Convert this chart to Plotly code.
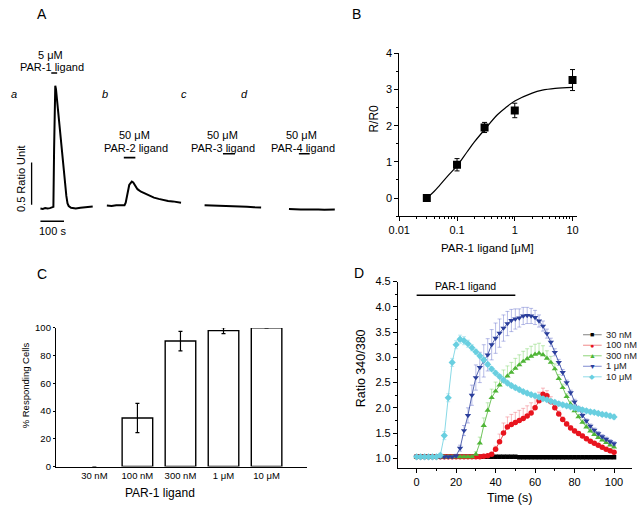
import plotly.graph_objects as go

W, H = 638, 510
FONT = "Arial, Liberation Sans, sans-serif"

def fx(px):
    return px / W

def fy(py):
    return 1 - py / H

# ---------------- Panel A data (time in s relative to trace start, ratio units) ----------------
a_t = [0, 10, 20, 30, 40, 50, 55, 58, 61, 63, 66, 75, 85, 95, 105, 110, 115, 120, 130, 150, 170, 190, 210, 222]
a_v = [0, -0.005, 0.005, 0, 0.005, 0.01, 0.02, 0.7, 1.3, 1.46, 1.42, 1.15, 0.86, 0.58, 0.3, 0.15, 0.06, 0.03, 0.01, 0.0, 0.01, 0.015, 0.02, 0.025]
b_t = [0, 20, 40, 60, 75, 80, 85, 90, 95, 100, 106, 112, 120, 130, 145, 160, 180, 200, 220, 240, 260, 280, 300, 315]
b_v = [0.035, 0.03, 0.04, 0.035, 0.04, 0.07, 0.15, 0.23, 0.28, 0.3, 0.32, 0.31, 0.27, 0.23, 0.2, 0.18, 0.155, 0.13, 0.115, 0.1, 0.09, 0.085, 0.075, 0.07]
c_t = [0, 30, 60, 90, 120, 150, 180, 210, 240]
c_v = [0.04, 0.038, 0.035, 0.03, 0.028, 0.022, 0.02, 0.015, 0.012]
d_t = [0, 25, 50, 75, 100, 125, 150, 175, 196]
d_v = [-0.005, -0.01, -0.012, -0.01, -0.015, -0.012, -0.015, -0.01, -0.012]
trace_labels = ["a", "b", "c", "d"]
ligand_on = [46, 72, 78, 42]
ligand_off = [71, 121, 129, 88]
ligand_conc = ["5 μM", "50 μM", "50 μM", "50 μM"]
ligand_name = ["PAR-1 ligand", "PAR-2 ligand", "PAR-3 ligand", "PAR-4 ligand"]

# ---------------- Panel B data ----------------
b_conc = [0.03, 0.1, 0.3, 1, 10]
b_ratio = [0.0, 0.92, 1.95, 2.42, 3.26]
b_err = [0.03, 0.17, 0.14, 0.2, 0.29]
fit_x = [0.03, 0.04, 0.05, 0.07, 0.1, 0.15, 0.2, 0.3, 0.5, 0.7, 1, 2, 3, 5, 10]
fit_y = [0.0, 0.18, 0.35, 0.62, 0.89, 1.28, 1.55, 1.89, 2.3, 2.5, 2.68, 2.9, 2.98, 3.03, 3.06]

# ---------------- Panel C data ----------------
c_cats = ["30 nM", "100 nM", "300 nM", "1 μM", "10 μM"]
c_pct = [0, 35, 90.5, 98, 100]
c_err = [0, 10.5, 7, 2.2, 0]

# ---------------- Panel D data ----------------
d_time = list(range(0, 101, 2))
nm30 = [1.03] * 26 + [1.02] * 25
nm100 = [1.03] * 17 + [1.04, 1.05, 1.08, 1.18, 1.33, 1.5, 1.62, 1.67, 1.71, 1.75, 1.79, 1.84, 1.9, 2.0, 2.14,
         2.27, 2.24, 2.12, 2.0, 1.88, 1.77, 1.68, 1.6, 1.54, 1.49, 1.44, 1.39, 1.34, 1.3, 1.26, 1.22, 1.18, 1.15, 1.12]
nm300 = [1.03] * 15 + [1.08, 1.3, 1.65, 1.95, 2.2, 2.33, 2.45, 2.55, 2.63, 2.7, 2.78, 2.85, 2.92, 2.97, 3.02, 3.06,
                       3.08, 3.05, 2.98, 2.9, 2.77, 2.58, 2.4, 2.22, 2.07, 1.94, 1.82, 1.71, 1.62, 1.54, 1.47, 1.41,
                       1.36, 1.31, 1.26, 1.22]
um1 = [1.03] * 10 + [1.05, 1.2, 1.55, 1.85, 2.25, 2.6, 2.8, 2.93, 3.05, 3.25, 3.38, 3.48, 3.58, 3.67, 3.73, 3.76,
                     3.78, 3.82, 3.83, 3.82, 3.79, 3.72, 3.62, 3.47, 3.3, 3.1, 2.9, 2.7, 2.5, 2.3, 2.12, 1.98, 1.85,
                     1.74, 1.64, 1.56, 1.49, 1.43, 1.38, 1.33, 1.29]
um10 = [1.03] * 6 + [1.06, 1.45, 2.2, 2.9, 3.25, 3.36, 3.33, 3.27, 3.19, 3.11, 3.03, 2.95, 2.86, 2.77, 2.69, 2.62,
                     2.55, 2.49, 2.44, 2.4, 2.36, 2.32, 2.29, 2.26, 2.24, 2.21, 2.18, 2.16, 2.13, 2.11, 2.08, 2.06,
                     2.04, 2.02, 2.0, 1.98, 1.96, 1.94, 1.92, 1.91, 1.89, 1.87, 1.86, 1.84, 1.82]
e30 = [0.01] * 51
e100 = [0.02] * 20 + [0.06, 0.15, 0.2, 0.2, 0.2, 0.2, 0.2, 0.2, 0.2, 0.2, 0.2, 0.17, 0.12, 0.1, 0.1, 0.08,
                      0.06, 0.05, 0.05, 0.05, 0.05, 0.04, 0.04, 0.04, 0.03, 0.03, 0.03, 0.03, 0.03, 0.03, 0.03]
e300 = [0.02] * 15 + [0.05, 0.12, 0.15, 0.15, 0.17, 0.18, 0.2, 0.2, 0.2, 0.2, 0.2, 0.2, 0.2, 0.2, 0.2, 0.2, 0.2,
                      0.18, 0.15, 0.12, 0.1, 0.08, 0.07, 0.06, 0.06, 0.05, 0.05, 0.05, 0.05, 0.04, 0.04, 0.04,
                      0.04, 0.04, 0.04, 0.04]
e1 = [0.02] * 10 + [0.03, 0.06, 0.1, 0.15, 0.2, 0.25, 0.3, 0.32, 0.32, 0.3, 0.3, 0.28, 0.26, 0.24, 0.22, 0.2,
                    0.18, 0.17, 0.16, 0.15, 0.14, 0.12, 0.1, 0.09, 0.08, 0.07, 0.06, 0.06, 0.05, 0.05, 0.05, 0.05,
                    0.04, 0.04, 0.04, 0.04, 0.04, 0.04, 0.04, 0.04, 0.04]
e10 = [0.02] * 6 + [0.04, 0.08, 0.08, 0.08, 0.08, 0.08, 0.08, 0.07, 0.06, 0.05] + [0.04] * 35
d_names = ["30 nM", "100 nM", "300 nM", "1 μM", "10 μM"]
d_series = [nm30, nm100, nm300, um1, um10]
d_errs = [e30, e100, e300, e1, e10]
d_err_both = [True, False, False, True, True]   # red / green bars drawn upward only
d_colors = ["#000000", "#e8141e", "#4fb536", "#2b3f9c", "#69cfe0"]
d_errcol = ["rgba(90,90,90,0.5)", "rgba(240,110,120,0.6)", "rgba(120,210,100,0.6)", "rgba(90,100,200,0.55)",
            "rgba(130,215,230,0.65)"]
d_symbols = ["square", "circle", "triangle-up", "triangle-down", "diamond"]
d_glyphs = ["■", "●", "▲", "▼", "◆"]
stim_window = [0, 50]
stim_level = 4.23

fig = go.Figure()

# ---------------- Panel A ----------------
S_PER_PX = 1 / 0.24
U_PER_PX = 1 / 86.0
starts_px = [30, 97.7, 197.3, 283.3]
offsets = [p * S_PER_PX for p in starts_px]
for (tt, vv), off in zip([(a_t, a_v), (b_t, b_v), (c_t, c_v), (d_t, d_v)], offsets):
    fig.add_trace(go.Scatter(x=[t + off for t in tt], y=vv, mode="lines",
                             line=dict(color="black", width=2), xaxis="x", yaxis="y",
                             hoverinfo="skip"))

lig_y = [1.61, 0.605, 0.651, 0.651]
for i in range(4):
    fig.add_shape(type="line", xref="x", yref="y",
                  x0=offsets[i] + ligand_on[i], x1=offsets[i] + ligand_off[i],
                  y0=lig_y[i], y1=lig_y[i], line=dict(color="black", width=1.6))

# scale bars: 0.5 ratio unit and 100 s
fig.add_shape(type="line", xref="x", yref="y", x0=21 * S_PER_PX, x1=21 * S_PER_PX,
              y0=0.0465, y1=0.5465, line=dict(color="black", width=1.3))
fig.add_shape(type="line", xref="x", yref="y", x0=offsets[0], x1=offsets[0] + 100,
              y0=-0.151, y1=-0.151, line=dict(color="black", width=1.3))

ann = []

def text(x, y, s, size=11, ang=0, xanchor="center", italic=False, color="black"):
    ann.append(dict(x=fx(x), y=fy(y), xref="paper", yref="paper", text=s, showarrow=False,
                    textangle=ang, xanchor=xanchor, yanchor="middle",
                    font=dict(family=FONT, size=size, color=color,
                              style="italic" if italic else "normal")))

text(32, 8, "A", 14)
text(352, 8, "B", 14)
text(32, 274, "C", 14)
text(355, 273, "D", 14)

lab_x = [3, 96, 176, 238]
for lx, lb in zip(lab_x, trace_labels):
    text(lx, 90, lb, 11, italic=True)
conc_pos = [(40, 50, 41.7, 62), (126, 132, 127.7, 145), (216, 132, 216, 145), (296, 132, 298, 145)]
for (cx, cy, nx, ny), cc, nn in zip(conc_pos, ligand_conc, ligand_name):
    text(cx, cy, cc, 11)
    text(nx, ny, nn, 11)
text(10, 176, "0.5 Ratio Unit", 11, ang=-90)
text(42, 230, "100 s", 11)

# ---------------- Panel B ----------------
fig.add_trace(go.Scatter(x=fit_x, y=fit_y, mode="lines", line=dict(color="black", width=1.2, shape="spline"),
                         xaxis="x2", yaxis="y2", hoverinfo="skip"))
fig.add_trace(go.Scatter(x=b_conc, y=b_ratio, mode="markers",
                         marker=dict(symbol="square", size=8, color="black"),
                         error_y=dict(type="data", array=b_err, color="black", thickness=1, width=2.5),
                         xaxis="x2", yaxis="y2", hoverinfo="skip"))
text(369, 115, "R/R0", 12, ang=-90)
text(486, 247, "PAR-1 ligand [μM]", 11.5)

# ---------------- Panel C ----------------
fig.add_trace(go.Bar(x=list(range(len(c_cats))), y=c_pct, width=0.71,
                     marker=dict(color="white",
                                 line=dict(color="black", width=[0 if v == 0 else 1.4 for v in c_pct])),
                     error_y=dict(type="data", array=c_err, color="black", thickness=1.2, width=2),
                     xaxis="x3", yaxis="y3", hoverinfo="skip"))
text(15, 388, "% Responding Cells", 9.5, ang=-90)
text(152, 498, "PAR-1 ligand", 12)

# ---------------- Panel D ----------------
for name, ys, es, both, col, ecol, sym in zip(d_names, d_series, d_errs, d_err_both, d_colors, d_errcol,
                                              d_symbols):
    err = dict(type="data", array=es, color=ecol, thickness=0.8, width=2)
    if not both:
        err.update(symmetric=False, arrayminus=[0] * len(es))
    fig.add_trace(go.Scatter(x=d_time, y=ys, mode="lines+markers", name=name,
                             line=dict(color=col, width=0.8),
                             marker=dict(symbol=sym, size=5.5 if sym != "square" else 4.5, color=col),
                             error_y=err, xaxis="x4", yaxis="y4", hoverinfo="skip"))
fig.add_shape(type="line", xref="x4", yref="y4", x0=stim_window[0], x1=stim_window[1],
              y0=stim_level, y1=stim_level, line=dict(color="black", width=1.3))
ann.append(dict(x=sum(stim_window) / 2, y=4.41, xref="x4", yref="y4", text="PAR-1 ligand", showarrow=False,
                font=dict(family=FONT, size=10.5, color="black")))
text(357, 370, "Ratio 340/380", 12.5, ang=-90)
text(508, 503, "Time (s)", 12.5)

# manual compact legend
rows = [336, 346.7, 357.5, 368.2, 379]
leg_line = ["#808080", "#f08a8a", "#8fd47a", "#7f8ad0", "#8fdbe8"]
for ry, nm, col, lc, g in zip(rows, d_names, d_colors, leg_line, d_glyphs):
    fig.add_shape(type="line", xref="paper", yref="paper", x0=fx(583), x1=fx(602), y0=fy(ry), y1=fy(ry),
                  line=dict(color=lc, width=1))
    text(592.5, ry, g, 7, color=col)
    text(604.5, ry, nm, 9.3, xanchor="left", color="#222")

axis_common = dict(showline=True, linecolor="black", linewidth=1, ticks="outside", tickcolor="black",
                   ticklen=4, showgrid=False, zeroline=False,
                   tickfont=dict(family=FONT, size=11, color="black"))

fig.update_layout(
    width=W, height=H, margin=dict(l=0, r=0, t=0, b=0),
    paper_bgcolor="white", plot_bgcolor="white", showlegend=False,
    font=dict(family=FONT, color="black"),
    xaxis=dict(domain=[0, fx(330)], range=[0, 330 * S_PER_PX], visible=False, anchor="y"),
    yaxis=dict(domain=[fy(230), fy(60)], range=[(207 - 230) * U_PER_PX, (207 - 60) * U_PER_PX],
               visible=False, anchor="x"),
    xaxis2=dict(axis_common, type="log", domain=[fx(395.7), fx(577)], range=[-2, 1.08], anchor="y2",
                tickvals=[0.01, 0.1, 1, 10], ticktext=["0.01", "0.1", "1", "10"],
                minor=dict(ticks="outside", ticklen=2, tickcolor="black", tickmode="array",
                           tickvals=[m * 10 ** e for e in (-2, -1, 0) for m in range(2, 10)])),
    yaxis2=dict(axis_common, domain=[fy(214.8), fy(48.3)], range=[-0.5, 4], anchor="x2", dtick=1, tick0=0,
                minor=dict(ticks="outside", ticklen=2, tickcolor="black", dtick=0.5)),
    xaxis3=dict(axis_common, domain=[fx(45.7), fx(301.7)], range=[-0.895, 4.94], anchor="y3",
                tickvals=list(range(len(c_cats))), ticktext=c_cats, ticks="",
                tickfont=dict(family=FONT, size=9.5, color="black")),
    yaxis3=dict(axis_common, domain=[fy(470.7), fy(329)], range=[0, 100], anchor="x3", dtick=20,
                ticklen=2, tickfont=dict(family=FONT, size=9.5, color="black")),
    xaxis4=dict(axis_common, domain=[fx(394.3), fx(632.7)], range=[-9.5, 109], anchor="y4", dtick=20, tick0=0,
                minor=dict(ticks="outside", ticklen=2, tickcolor="black", dtick=10)),
    yaxis4=dict(axis_common, domain=[fy(472.3), fy(281.7)], range=[0.806, 4.5], anchor="x4", dtick=0.5,
                tick0=1, tickformat=".1f",
                minor=dict(ticks="outside", ticklen=2, tickcolor="black", dtick=0.25)),
    annotations=ann,
)

fig.write_html("out.html", config={"displayModeBar": False},
               post_script="document.body.style.margin='0';document.body.style.overflow='hidden';")
